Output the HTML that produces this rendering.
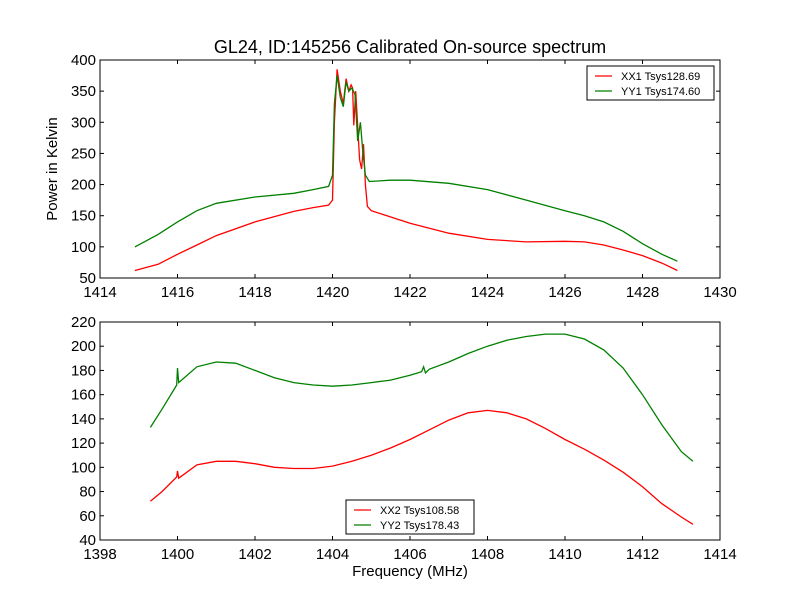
<!DOCTYPE html>
<html><head><meta charset="utf-8"><style>
body{margin:0;background:#fff;width:800px;height:600px;overflow:hidden}
svg{font-family:"Liberation Sans","DejaVu Sans",sans-serif}
</style></head><body>
<svg id="c" width="800" height="600">
<rect width="800" height="600" fill="#fff"/>
<text x="410" y="53" text-anchor="middle" font-size="18">GL24, ID:145256 Calibrated On-source spectrum</text>
<text x="57" y="169" text-anchor="middle" font-size="15" transform="rotate(-90 57 169)">Power in Kelvin</text>
<text x="410" y="576" text-anchor="middle" font-size="15">Frequency (MHz)</text>
</svg>
<script>
const topXX1F=[1414.9,1415.5,1416,1416.5,1417,1418,1419,1419.5,1419.9,1420.0,1420.05,1420.12,1420.2,1420.28,1420.35,1420.42,1420.48,1420.52,1420.55,1420.6,1420.7,1420.75,1420.8,1420.85,1420.9,1421,1422,1423,1424,1425,1426,1426.5,1427,1427.5,1428,1428.5,1428.9];
const topXX1V=[62,72,88,103,118,140,157,163,167,175,300,385,350,330,370,350,360,355,295,350,240,225,265,200,165,158,138,122,112,108,109,108,103,95,86,74,62];
const topYY1F=[1414.9,1415.5,1416,1416.5,1417,1418,1419,1419.5,1419.9,1420.0,1420.05,1420.12,1420.2,1420.28,1420.35,1420.42,1420.5,1420.58,1420.65,1420.72,1420.78,1420.85,1420.95,1421.5,1422,1423,1424,1425,1426,1426.5,1427,1427.5,1428,1428.5,1428.9];
const topYY1V=[100,120,140,158,170,180,186,192,197,215,330,375,340,325,365,350,355,345,270,300,255,215,205,207,207,202,192,175,158,150,140,125,105,88,77];
const botF=[1399.3,1399.6,1399.98,1400,1400.03,1400.5,1401,1401.5,1402,1402.5,1403,1403.5,1404,1404.5,1405,1405.5,1406,1406.5,1407,1407.5,1408,1408.5,1409,1409.5,1410,1410.5,1411,1411.5,1412,1412.5,1413,1413.3];
const botXX2V=[72,80,92,97,91,102,105,105,103,100,99,99,101,105,110,116,123,131,139,145,147,145,140,132,123,115,106,96,84,70,59,53];
const botYY2F=[1399.3,1399.6,1399.98,1400,1400.03,1400.5,1401,1401.5,1402,1402.5,1403,1403.5,1404,1404.5,1405,1405.5,1406,1406.3,1406.35,1406.4,1406.5,1407,1407.5,1408,1408.5,1409,1409.5,1410,1410.5,1411,1411.5,1412,1412.5,1413,1413.3];
const botYY2V=[133,148,168,182,170,183,187,186,180,174,170,168,167,168,170,172,176,179,183,178,181,187,194,200,205,208,210,210,206,197,182,160,135,113,105];
const topXTicks=[1414,1416,1418,1420,1422,1424,1426,1428,1430];
const topYTicks=[50,100,150,200,250,300,350,400];
const botXTicks=[1398,1400,1402,1404,1406,1408,1410,1412,1414];
const botYTicks=[40,60,80,100,120,140,160,180,200,220];
const NS="http://www.w3.org/2000/svg";
const svg=document.getElementById('c');
function mk(t,a,p){const e=document.createElementNS(NS,t);for(const k in a)e.setAttribute(k,a[k]);(p||svg).appendChild(e);return e;}
function panel(name,x0,x1,y0,y1,L,T,W,H,xt,yt,series,leg){
  const g=mk('g',{});
  
  
  const sx=v=>L+(v-x0)/(x1-x0)*W, sy=v=>T+H-(v-y0)/(y1-y0)*H;
  series.forEach(s=>{
    const d=s.f.map((f,i)=>(i?'L':'M')+sx(f).toFixed(1)+' '+sy(s.v[i]).toFixed(1)).join('');
    const p=mk('path',{d:d,fill:'none',stroke:s.c,'stroke-width':1.3},g);
    
    
  });
  mk('rect',{x:L,y:T,width:W,height:H,fill:'none',stroke:'#000'},g);
  xt.forEach(v=>{const x=sx(v);mk('line',{x1:x,x2:x,y1:T+H,y2:T+H-4,stroke:'#000'},g);mk('line',{x1:x,x2:x,y1:T,y2:T+4,stroke:'#000'},g);
    const t=mk('text',{x:x,y:T+H+19,'text-anchor':'middle','font-size':15},g);t.textContent=v;
    
    });
  yt.forEach(v=>{const y=sy(v);mk('line',{x1:L,x2:L+4,y1:y,y2:y,stroke:'#000'},g);mk('line',{x1:L+W,x2:L+W-4,y1:y,y2:y,stroke:'#000'},g);
    const t=mk('text',{x:L-4,y:y+5,'text-anchor':'end','font-size':15},g);t.textContent=v;
    
    });
  const lg=mk('g',{},g);
  
  
  mk('rect',{x:leg.x,y:leg.y,width:leg.w,height:34,fill:'#fff',stroke:'#000'},lg);
  series.forEach((s,i)=>{const y=leg.y+10+i*15;
    mk('line',{x1:leg.x+8,x2:leg.x+25,y1:y,y2:y,stroke:s.c,'stroke-width':1.3},lg);
    const t=mk('text',{x:leg.x+34,y:y+4,'font-size':11},lg);t.textContent=s.label;
    
    });
}
panel('top-panel',1414,1430,50,400,100,60,620,218,topXTicks,topYTicks,
 [{f:topXX1F,v:topXX1V,c:'#ff0000',n:'xx1-line',label:'XX1 Tsys128.69'},{f:topYY1F,v:topYY1V,c:'#008000',n:'yy1-line',label:'YY1 Tsys174.60'}],
 {x:587,y:66,w:127});
panel('bottom-panel',1398,1414,40,220,100,322,620,218,botXTicks,botYTicks,
 [{f:botF,v:botXX2V,c:'#ff0000',n:'xx2-line',label:'XX2 Tsys108.58'},{f:botYY2F,v:botYY2V,c:'#008000',n:'yy2-line',label:'YY2 Tsys178.43'}],
 {x:346,y:500,w:128});
</script>
</body></html>
